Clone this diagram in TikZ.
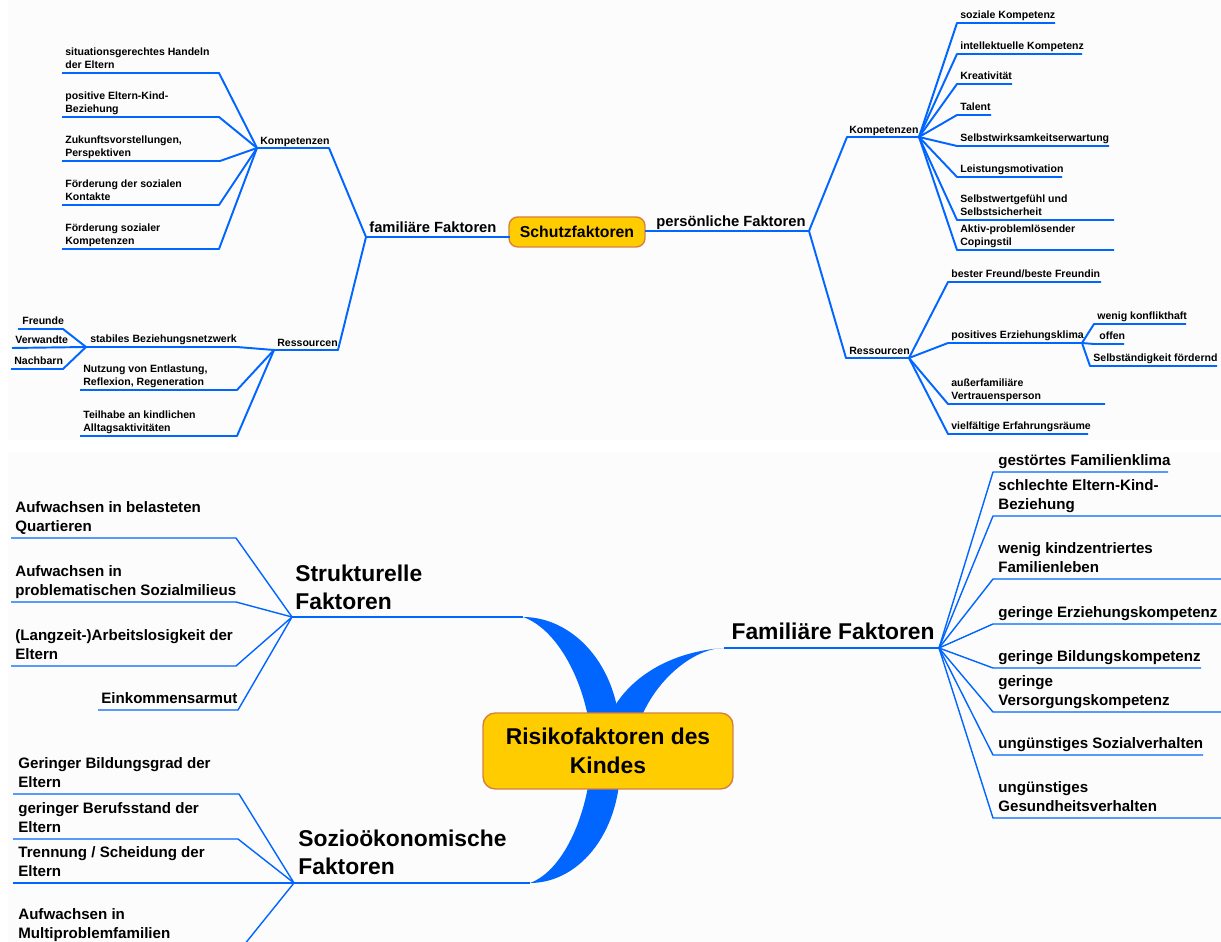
\documentclass[tikz,border=0pt]{standalone}
\usepackage{fontspec}
\setmainfont{Liberation Sans}
\usetikzlibrary{calc}
\definecolor{mmblue}{RGB}{0,102,255}
\definecolor{boxfill}{RGB}{255,204,0}
\definecolor{boxedge}{RGB}{214,128,64}
\tikzstyle{topline} = [draw=mmblue, line width=1.1pt, line join=round]
\tikzstyle{botline} = [draw=mmblue, line width=0.8pt, line join=round]
\tikzstyle{ribbon} = [fill=mmblue]
\tikzstyle{rootbox} = [draw=boxedge, fill=boxfill, line width=0.8pt, align=center, inner sep=0pt]
\tikzstyle{leaftext} = [anchor=south west, inner sep=0pt, align=left, execute at end node=\strut]
\tikzstyle{smalltext} = [leaftext, font=\fontsize{6}{7.4}\selectfont\bfseries]
\tikzstyle{midtext} = [leaftext, font=\fontsize{8.4}{10}\selectfont\bfseries]
\tikzstyle{itemtext} = [leaftext, font=\fontsize{8.6}{10.8}\selectfont\bfseries]
\tikzstyle{headtext} = [leaftext, font=\fontsize{13}{16}\selectfont\bfseries]

\begin{document}
\begin{tikzpicture}[x=0.02cm, y=-0.02cm]
    \useasboundingbox (0,0) rectangle (1221,942);
    \fill[black!1.2] (8,0) rectangle (1221,440);
    \fill[black!1.2] (8,452) rectangle (1221,942);

    \node[rootbox, minimum width=2.72cm, minimum height=0.6cm, rounded corners=5pt, font=\fontsize{9}{11}\selectfont\bfseries] (sf_box) at (577,232) {Schutzfaktoren};

    \coordinate (fam_fork) at (366,237);
    \coordinate (fam_end) at (510,237);
    \node[midtext] (fam_lbl) at ($(fam_fork)+(3,1)$) {familiäre Faktoren};
    \draw[topline] (fam_end) -- (fam_fork);

    \coordinate (kl_fork) at (257,148);
    \coordinate (kl_end) at (329,148);
    \node[smalltext] (kl_lbl) at ($(kl_fork)+(3,1)$) {Kompetenzen};
    \draw[topline] (fam_fork) -- (kl_end) -- (kl_fork);

    \coordinate (kl1_a) at (62,73);
    \coordinate (kl1_b) at (219,73);
    \node[smalltext] (kl1) at ($(kl1_a)+(3,0)$) {situationsgerechtes Handeln\\der Eltern};
    \draw[topline] (kl_fork) -- (kl1_b) -- (kl1_a);
    \coordinate (kl2_a) at (62,117);
    \coordinate (kl2_b) at (219,117);
    \node[smalltext] (kl2) at ($(kl2_a)+(3,0)$) {positive Eltern-Kind-\\Beziehung};
    \draw[topline] (kl_fork) -- (kl2_b) -- (kl2_a);
    \coordinate (kl3_a) at (62,161);
    \coordinate (kl3_b) at (220,161);
    \node[smalltext] (kl3) at ($(kl3_a)+(3,0)$) {Zukunftsvorstellungen,\\Perspektiven};
    \draw[topline] (kl_fork) -- (kl3_b) -- (kl3_a);
    \coordinate (kl4_a) at (62,205);
    \coordinate (kl4_b) at (219,205);
    \node[smalltext] (kl4) at ($(kl4_a)+(3,0)$) {Förderung der sozialen\\Kontakte};
    \draw[topline] (kl_fork) -- (kl4_b) -- (kl4_a);
    \coordinate (kl5_a) at (62,249);
    \coordinate (kl5_b) at (219,249);
    \node[smalltext] (kl5) at ($(kl5_a)+(3,0)$) {Förderung sozialer\\Kompetenzen};
    \draw[topline] (kl_fork) -- (kl5_b) -- (kl5_a);

    \coordinate (rl_fork) at (274,350);
    \coordinate (rl_end) at (338,350);
    \node[smalltext] (rl_lbl) at ($(rl_fork)+(3,1)$) {Ressourcen};
    \draw[topline] (fam_fork) -- (rl_end) -- (rl_fork);

    \coordinate (sb_fork) at (86,347);
    \coordinate (sb_end) at (237,347);
    \node[smalltext] (sb_lbl) at ($(sb_fork)+(4,0)$) {stabiles Beziehungsnetzwerk};
    \draw[topline] (rl_fork) -- (sb_end) -- (sb_fork);
    \coordinate (fr_a) at (18,329);
    \coordinate (fr_b) at (63,329);
    \node[smalltext] (fr) at ($(fr_a)+(4,0)$) {Freunde};
    \draw[topline] (sb_fork) -- (fr_b) -- (fr_a);
    \coordinate (vw_a) at (12,348);
    \node[smalltext] (vw) at ($(vw_a)+(3,0)$) {Verwandte};
    \draw[topline] (sb_fork) -- (vw_a);
    \coordinate (nb_a) at (11,369);
    \coordinate (nb_b) at (63,369);
    \node[smalltext] (nb) at ($(nb_a)+(3,0)$) {Nachbarn};
    \draw[topline] (sb_fork) -- (nb_b) -- (nb_a);

    \coordinate (rl2_a) at (80,390);
    \coordinate (rl2_b) at (237,390);
    \node[smalltext] (rl2) at ($(rl2_a)+(3,0)$) {Nutzung von Entlastung,\\Reflexion, Regeneration};
    \draw[topline] (rl_fork) -- (rl2_b) -- (rl2_a);
    \coordinate (rl3_a) at (80,436);
    \coordinate (rl3_b) at (237,436);
    \node[smalltext] (rl3) at ($(rl3_a)+(3,0)$) {Teilhabe an kindlichen\\Alltagsaktivitäten};
    \draw[topline] (rl_fork) -- (rl3_b) -- (rl3_a);

    \coordinate (pf_start) at (645,231);
    \coordinate (pf_fork) at (809,231);
    \node[midtext, anchor=south east] (pf_lbl) at ($(pf_fork)+(-3,1)$) {persönliche Faktoren};
    \draw[topline] (pf_start) -- (pf_fork);

    \coordinate (kr_fork) at (919,137);
    \coordinate (kr_end) at (847,137);
    \node[smalltext] (kr_lbl) at ($(kr_end)+(2,1)$) {Kompetenzen};
    \draw[topline] (pf_fork) -- (kr_end) -- (kr_fork);

    \coordinate (kr1_a) at (957,23);
    \coordinate (kr1_b) at (1055,23);
    \node[smalltext] (kr1) at ($(kr1_a)+(3,0)$) {soziale Kompetenz};
    \draw[topline] (kr_fork) -- (kr1_a) -- (kr1_b);
    \coordinate (kr2_a) at (957,54);
    \coordinate (kr2_b) at (1082,54);
    \node[smalltext] (kr2) at ($(kr2_a)+(3,0)$) {intellektuelle Kompetenz};
    \draw[topline] (kr_fork) -- (kr2_a) -- (kr2_b);
    \coordinate (kr3_a) at (957,84);
    \coordinate (kr3_b) at (1012,84);
    \node[smalltext] (kr3) at ($(kr3_a)+(3,0)$) {Kreativität};
    \draw[topline] (kr_fork) -- (kr3_a) -- (kr3_b);
    \coordinate (kr4_a) at (957,115);
    \coordinate (kr4_b) at (991,115);
    \node[smalltext] (kr4) at ($(kr4_a)+(3,0)$) {Talent};
    \draw[topline] (kr_fork) -- (kr4_a) -- (kr4_b);
    \coordinate (kr5_a) at (957,146);
    \coordinate (kr5_b) at (1109,146);
    \node[smalltext] (kr5) at ($(kr5_a)+(3,0)$) {Selbstwirksamkeitserwartung};
    \draw[topline] (kr_fork) -- (kr5_a) -- (kr5_b);
    \coordinate (kr6_a) at (957,177);
    \coordinate (kr6_b) at (1062,177);
    \node[smalltext] (kr6) at ($(kr6_a)+(3,0)$) {Leistungsmotivation};
    \draw[topline] (kr_fork) -- (kr6_a) -- (kr6_b);
    \coordinate (kr7_a) at (957,220);
    \coordinate (kr7_b) at (1114,220);
    \node[smalltext] (kr7) at ($(kr7_a)+(3,0)$) {Selbstwertgefühl und\\Selbstsicherheit};
    \draw[topline] (kr_fork) -- (kr7_a) -- (kr7_b);
    \coordinate (kr8_a) at (957,250);
    \coordinate (kr8_b) at (1114,250);
    \node[smalltext] (kr8) at ($(kr8_a)+(3,0)$) {Aktiv-problemlösender\\Copingstil};
    \draw[topline] (kr_fork) -- (kr8_a) -- (kr8_b);

    \coordinate (rr_fork) at (909,358);
    \coordinate (rr_end) at (846,358);
    \node[smalltext] (rr_lbl) at ($(rr_end)+(3,1)$) {Ressourcen};
    \draw[topline] (pf_fork) -- (rr_end) -- (rr_fork);

    \coordinate (rr1_a) at (948,282);
    \coordinate (rr1_b) at (1101,282);
    \node[smalltext] (rr1) at ($(rr1_a)+(3,0)$) {bester Freund/beste Freundin};
    \draw[topline] (rr_fork) -- (rr1_a) -- (rr1_b);
    \coordinate (rr2_a) at (948,343);
    \coordinate (ek_fork) at (1082,343);
    \node[smalltext] (rr2) at ($(rr2_a)+(3,0)$) {positives Erziehungsklima};
    \draw[topline] (rr_fork) -- (rr2_a) -- (ek_fork);
    \coordinate (ek1_a) at (1094,324);
    \coordinate (ek1_b) at (1186,324);
    \node[smalltext] (ek1) at ($(ek1_a)+(3,0)$) {wenig konflikthaft};
    \draw[topline] (ek_fork) -- (ek1_a) -- (ek1_b);
    \coordinate (ek2_a) at (1094,344);
    \coordinate (ek2_b) at (1124,344);
    \node[smalltext] (ek2) at ($(ek2_a)+(5,0)$) {offen};
    \draw[topline] (ek_fork) -- (ek2_a) -- (ek2_b);
    \coordinate (ek3_a) at (1090,366);
    \coordinate (ek3_b) at (1217,366);
    \node[smalltext] (ek3) at ($(ek3_a)+(3,0)$) {Selbständigkeit fördernd};
    \draw[topline] (ek_fork) -- (ek3_a) -- (ek3_b);
    \coordinate (rr3_a) at (948,404);
    \coordinate (rr3_b) at (1105,404);
    \node[smalltext] (rr3) at ($(rr3_a)+(3,0)$) {außerfamiliäre\\Vertrauensperson};
    \draw[topline] (rr_fork) -- (rr3_a) -- (rr3_b);
    \coordinate (rr4_a) at (948,434);
    \coordinate (rr4_b) at (1088,434);
    \node[smalltext] (rr4) at ($(rr4_a)+(3,0)$) {vielfältige Erfahrungsräume};
    \draw[topline] (rr_fork) -- (rr4_a) -- (rr4_b);

    \coordinate (risk_c) at (608,751);
    \coordinate (sk_fork) at (292,617);
    \coordinate (sk_end) at (523,617);
    \coordinate (so_fork) at (294,883);
    \coordinate (so_end) at (530,883);
    \coordinate (fa_fork) at (939,648);
    \coordinate (fa_end) at (724,648);

    \fill[ribbon] (sk_end) .. controls +(52,0) and +(5,-81) .. ($(risk_c)+(12,0)$) -- ($(risk_c)+(-16,0)$) .. controls +(-2,-61) and +(37,13) .. (sk_end) -- cycle;
    \fill[ribbon] (so_end) .. controls +(50,0) and +(5,79) .. ($(risk_c)+(12,0)$) -- ($(risk_c)+(-16,0)$) .. controls +(-2,59) and +(35,-13) .. (so_end) -- cycle;
    \fill[ribbon] (fa_end) .. controls +(-34,0) and +(8,-61) .. ($(risk_c)+(24,0)$) -- ($(risk_c)+(-8,0)$) .. controls +(5,-61) and +(-64,4) .. (fa_end) -- cycle;

    \node[rootbox, minimum width=5cm, minimum height=1.52cm, rounded corners=7pt, font=\fontsize{13}{16.4}\selectfont\bfseries] (risk_box) at (risk_c) {Risikofaktoren des\\Kindes};

    \node[headtext] (sk_lbl) at ($(sk_fork)+(3,1)$) {Strukturelle\\Faktoren};
    \draw[botline] (sk_end) -- (sk_fork);
    \coordinate (sk1_a) at (11,538);
    \coordinate (sk1_b) at (236,538);
    \node[itemtext] (sk1) at ($(sk1_a)+(4,0)$) {Aufwachsen in belasteten\\Quartieren};
    \draw[botline] (sk_fork) -- (sk1_b) -- (sk1_a);
    \coordinate (sk2_a) at (11,602);
    \coordinate (sk2_b) at (236,602);
    \node[itemtext] (sk2) at ($(sk2_a)+(4,0)$) {Aufwachsen in\\problematischen Sozialmilieus};
    \draw[botline] (sk_fork) -- (sk2_b) -- (sk2_a);
    \coordinate (sk3_a) at (11,666);
    \coordinate (sk3_b) at (236,666);
    \node[itemtext] (sk3) at ($(sk3_a)+(4,0)$) {(Langzeit-)Arbeitslosigkeit der\\Eltern};
    \draw[botline] (sk_fork) -- (sk3_b) -- (sk3_a);
    \coordinate (sk4_a) at (98,710);
    \coordinate (sk4_b) at (238,710);
    \node[itemtext] (sk4) at ($(sk4_a)+(3,0)$) {Einkommensarmut};
    \draw[botline] (sk_fork) -- (sk4_b) -- (sk4_a);

    \node[headtext] (so_lbl) at ($(so_fork)+(4,0)$) {Sozioökonomische\\Faktoren};
    \draw[botline] (so_end) -- (so_fork);
    \coordinate (so1_a) at (13,794);
    \coordinate (so1_b) at (239,794);
    \node[itemtext] (so1) at ($(so1_a)+(5,0)$) {Geringer Bildungsgrad der\\Eltern};
    \draw[botline] (so_fork) -- (so1_b) -- (so1_a);
    \coordinate (so2_a) at (13,839);
    \coordinate (so2_b) at (238,839);
    \node[itemtext] (so2) at ($(so2_a)+(5,0)$) {geringer Berufsstand der\\Eltern};
    \draw[botline] (so_fork) -- (so2_b) -- (so2_a);
    \coordinate (so3_a) at (13,883);
    \node[itemtext] (so3) at ($(so3_a)+(5,0)$) {Trennung / Scheidung der\\Eltern};
    \draw[botline] (so_fork) -- (so3_a);
    \coordinate (so4_a) at (13,945);
    \coordinate (so4_b) at (244,945);
    \node[itemtext] (so4) at ($(so4_a)+(5,0)$) {Aufwachsen in\\Multiproblemfamilien};
    \draw[botline] (so_fork) -- (so4_b) -- (so4_a);

    \node[headtext, anchor=south east] (fa_lbl) at ($(fa_fork)+(-4,0)$) {Familiäre Faktoren};
    \draw[botline] (fa_end) -- (fa_fork);
    \coordinate (fa1_a) at (993,472);
    \coordinate (fa1_b) at (1168,472);
    \node[itemtext] (fa1) at ($(fa1_a)+(5,0)$) {gestörtes Familienklima};
    \draw[botline] (fa_fork) -- (fa1_a) -- (fa1_b);
    \coordinate (fa2_a) at (993,516);
    \coordinate (fa2_b) at (1225,516);
    \node[itemtext] (fa2) at ($(fa2_a)+(5,0)$) {schlechte Eltern-Kind-\\Beziehung};
    \draw[botline] (fa_fork) -- (fa2_a) -- (fa2_b);
    \coordinate (fa3_a) at (993,579);
    \coordinate (fa3_b) at (1225,579);
    \node[itemtext] (fa3) at ($(fa3_a)+(5,0)$) {wenig kindzentriertes\\Familienleben};
    \draw[botline] (fa_fork) -- (fa3_a) -- (fa3_b);
    \coordinate (fa4_a) at (993,624);
    \coordinate (fa4_b) at (1225,624);
    \node[itemtext] (fa4) at ($(fa4_a)+(5,0)$) {geringe Erziehungskompetenz};
    \draw[botline] (fa_fork) -- (fa4_a) -- (fa4_b);
    \coordinate (fa5_a) at (993,668);
    \coordinate (fa5_b) at (1201,668);
    \node[itemtext] (fa5) at ($(fa5_a)+(5,0)$) {geringe Bildungskompetenz};
    \draw[botline] (fa_fork) -- (fa5_a) -- (fa5_b);
    \coordinate (fa6_a) at (993,712);
    \coordinate (fa6_b) at (1225,712);
    \node[itemtext] (fa6) at ($(fa6_a)+(5,0)$) {geringe\\Versorgungskompetenz};
    \draw[botline] (fa_fork) -- (fa6_a) -- (fa6_b);
    \coordinate (fa7_a) at (993,755);
    \coordinate (fa7_b) at (1203,755);
    \node[itemtext] (fa7) at ($(fa7_a)+(5,0)$) {ungünstiges Sozialverhalten};
    \draw[botline] (fa_fork) -- (fa7_a) -- (fa7_b);
    \coordinate (fa8_a) at (993,818);
    \coordinate (fa8_b) at (1225,818);
    \node[itemtext] (fa8) at ($(fa8_a)+(5,0)$) {ungünstiges\\Gesundheitsverhalten};
    \draw[botline] (fa_fork) -- (fa8_a) -- (fa8_b);
\end{tikzpicture}
\end{document}
